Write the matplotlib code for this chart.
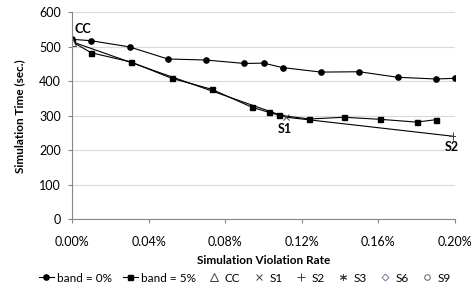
import numpy as np
import matplotlib.pyplot as plt

plt.rcParams['font.family'] = ['Lato', 'DejaVu Sans']

# band = 0% series
rate0 = [0.000, 0.010, 0.030, 0.050, 0.070, 0.090, 0.100, 0.110, 0.130, 0.150, 0.170, 0.190, 0.200]
time0 = [522, 518, 500, 465, 462, 452, 453, 440, 427, 428, 412, 407, 409]

# band = 5% series
rate5 = [0.000, 0.010, 0.031, 0.052, 0.073, 0.094, 0.103, 0.108, 0.124, 0.142, 0.161, 0.180, 0.190]
time5 = [515, 483, 456, 409, 377, 325, 310, 302, 291, 296, 290, 282, 289]

# scenario points
scen_names = ['CC', 'S1', 'S2']
scen_rate = [0.000, 0.112, 0.199]
scen_time = [515, 296, 241]

xticks = [0.00, 0.04, 0.08, 0.12, 0.16, 0.20]
yticks = [0, 100, 200, 300, 400, 500, 600]

fig = plt.figure(figsize=(4.71, 2.89), dpi=100)
ax = fig.add_axes([0.153, 0.241, 0.813, 0.716])

ax.plot(rate0, time0, color='black', lw=0.8, marker='o', ms=3.8, label='band = 0%')
ax.plot(rate5, time5, color='black', lw=0.8, marker='s', ms=3.6, label='band = 5%')
ax.plot(scen_rate, scen_time, color='black', lw=0.8)

ax.plot(scen_rate[:1], scen_time[:1], ls='none', marker='^', ms=6, mfc='white', mec='#404040', mew=0.7, label='CC')
ax.plot(scen_rate[1:2], scen_time[1:2], ls='none', marker='x', ms=5, mec='#404040', mew=0.7, label='S1')
ax.plot(scen_rate[2:3], scen_time[2:3], ls='none', marker='+', ms=6, mec='#404040', mew=0.7, label='S2')
ax.plot([], [], ls='none', marker=(6, 2, 0), ms=5, mec='#404040', mew=0.7, label='S3')
ax.plot([], [], ls='none', marker='D', ms=3.5, mfc='white', mec='#8070b0', mew=0.7, label='S6')
ax.plot([], [], ls='none', marker='o', ms=4, mfc='white', mec='#606060', mew=0.7, label='S9')

ax.text(0.0012, 552, 'CC', fontsize=9, fontweight='bold', va='center', ha='left')
ax.text(0.111, 262, 'S1', fontsize=9, fontweight='bold', va='center', ha='center')
ax.text(0.1986, 209, 'S2', fontsize=9, fontweight='bold', va='center', ha='center')

ax.set_xlim(0, 0.20)
ax.set_ylim(0, 600)
ax.set_xticks(xticks)
ax.set_xticklabels([f'{t:.2f}%' for t in xticks])
ax.set_yticks(yticks)
ax.tick_params(axis='both', labelsize=9, color='#868686', length=3, width=0.8)
ax.tick_params(axis='x', pad=9)
ax.tick_params(axis='y', pad=5)
ax.grid(axis='y', color='#d9d9d9', lw=0.8)
ax.set_axisbelow(True)
for s in ['top', 'right']:
    ax.spines[s].set_visible(False)
for s in ['left', 'bottom']:
    ax.spines[s].set_color('#868686')
    ax.spines[s].set_linewidth(0.8)

ax.set_xlabel('Simulation Violation Rate', fontsize=8.5, fontweight='bold', labelpad=5)
ax.set_ylabel('Simulation Time (sec.)', fontsize=8.5, fontweight='bold', labelpad=10)

fig.legend(loc='center', bbox_to_anchor=(0.52, 0.038), ncol=8, frameon=False,
           fontsize=8.5, handlelength=1.3, handletextpad=0.25, columnspacing=0.9,
           borderpad=0.2)

fig.savefig('out.png', dpi=100)
